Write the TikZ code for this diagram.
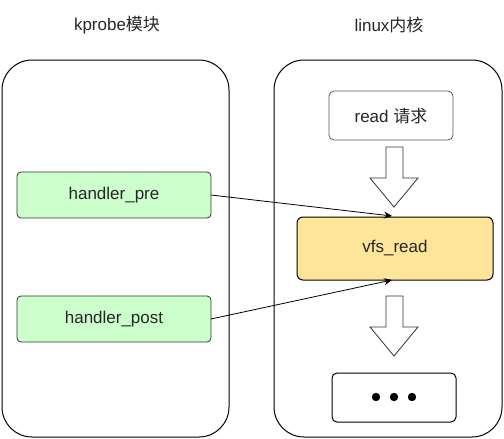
\documentclass[tikz,border=0pt]{standalone}
\usepackage{fontspec}
\setmainfont{Liberation Sans}
\newfontfamily\cjk{Noto Sans CJK SC}
\usetikzlibrary{arrows.meta,shapes.arrows}
\definecolor{gfill}{HTML}{CCFFCC}
\definecolor{yfill}{HTML}{FFE599}
\begin{document}
\begin{tikzpicture}[x=1pt,y=-1pt,
  container/.style={draw=black,line width=1pt,rounded corners=30pt},
  greenbox/.style={draw=black!80,fill=gfill,rounded corners=4pt,line width=0.8pt},
  whitebox/.style={draw=black!65,fill=white,rounded corners=5pt,line width=0.8pt},
  yellowbox/.style={draw=black,fill=yfill,rounded corners=6pt,line width=1pt},
  blockarrow/.style={draw=black!80,fill=white,line width=0.8pt,line join=miter},
  conn/.style={draw=black,line width=0.8pt,-{Stealth[length=8pt,width=7pt]}},
  lbl/.style={font=\fontsize{17}{20}\selectfont,text=black!85}]
\useasboundingbox (0,0) rectangle (504,439);
% containers
\draw[container] (2,60) rectangle (229,437);
\draw[container] (274,60) rectangle (502,437);
\node[lbl] (t1) at (117,25) {kprobe{\cjk 模块}};
\node[lbl] (t2) at (389,25) {linux{\cjk 内核}};
% left boxes
\draw[greenbox] (17,172) rectangle (211,218);
\node[lbl] (pre) at (114,195) {handler\_pre};
\coordinate (preR) at (211,195);
\draw[greenbox] (17,296) rectangle (211,342);
\node[lbl] (post) at (114,319) {handler\_post};
\coordinate (postR) at (211,319);
% right boxes
\draw[whitebox] (329,91) rectangle (453,140);
\node[lbl] (rd) at (391,116) {read {\cjk 请求}};
\draw[yellowbox] (297,217) rectangle (493,280);
\node[lbl] (vfs) at (395,248) {vfs\_read};
\draw[black,line width=1pt,rounded corners=5pt] (332,373) rectangle (456,422);
\node (dots) at (394,397) {};
\foreach \x in {376,394,412} \fill[black] (\x,397) circle (4.2pt);
% block arrows
\draw[blockarrow] (386,147) -- (403,147) -- (403,178) -- (418,178) -- (394,207) -- (370,178) -- (386,178) -- cycle;
\draw[blockarrow] (386,296) -- (403,296) -- (403,327) -- (418,327) -- (394,356) -- (370,327) -- (386,327) -- cycle;
% connectors
\coordinate (vfsT) at (392,216);
\coordinate (vfsB) at (392,280);
\draw[conn] (preR) -- (vfsT);
\draw[conn] (postR) -- (vfsB);
\end{tikzpicture}
\end{document}
